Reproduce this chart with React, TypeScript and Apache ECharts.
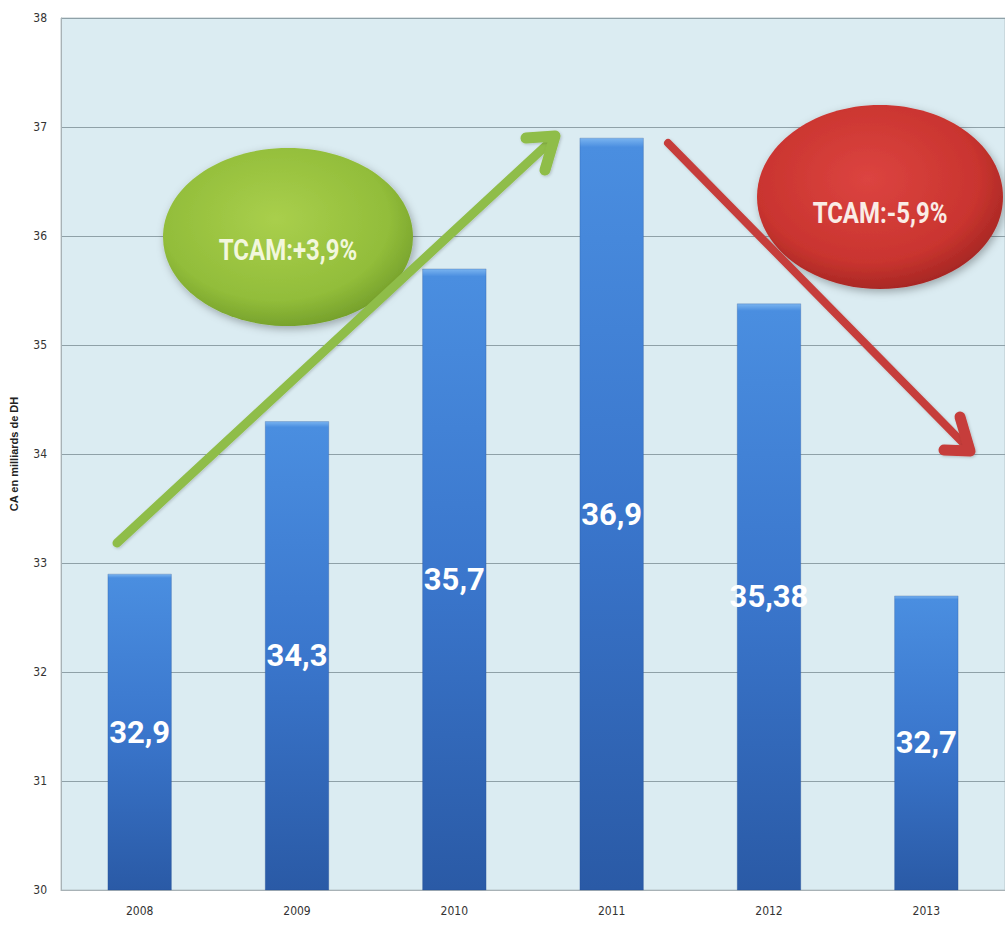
import React, { useEffect, useRef } from "react";
import * as echarts from "echarts";

const categories = ["2008", "2009", "2010", "2011", "2012", "2013"];
const caValues = [32.9, 34.3, 35.7, 36.9, 35.38, 32.7];
const yTicks = [30, 31, 32, 33, 34, 35, 36, 37, 38];
const growthUp = "TCAM:+3,9%";
const growthDown = "TCAM:-5,9%";

const NARROW = "'DejaVu Sans Condensed', 'Liberation Sans Narrow', sans-serif";
const BOLDFONT = "Roboto, 'Noto Sans', sans-serif";

export default function App() {
  const ref = useRef<HTMLDivElement>(null);
  useEffect(() => {
    if (!ref.current) return;
    const chart = echarts.init(ref.current, null, { renderer: "svg" });
    const arrowStyle = (c: string, w: number) => ({
      stroke: c,
      lineWidth: w,
      lineCap: "round",
      lineJoin: "round",
      fill: "none",
      shadowBlur: 3,
      shadowColor: "rgba(0,0,0,0.2)",
      shadowOffsetX: 1,
      shadowOffsetY: 1,
    });
    chart.setOption({
      animation: false,
      backgroundColor: "#ffffff",
      grid: {
        left: 60,
        top: 18,
        width: 948,
        height: 872,
        show: true,
        backgroundColor: "#dbecf2",
        borderColor: "#b9c6cb",
        borderWidth: 1,
        containLabel: false,
      },
      xAxis: {
        type: "category",
        data: categories,
        axisTick: { show: false },
        axisLine: { lineStyle: { color: "#a8b2b6", width: 1 } },
        axisLabel: { color: "#333", fontSize: 12, fontFamily: NARROW, margin: 15 },
      },
      yAxis: {
        type: "value",
        min: yTicks[0],
        max: yTicks[yTicks.length - 1],
        interval: 1,
        name: "CA en milliards de DH",
        nameLocation: "middle",
        nameRotate: 90,
        nameGap: 42,
        nameTextStyle: { color: "#222", fontSize: 11, fontWeight: "bold", fontFamily: "'Liberation Sans', Arial, sans-serif" },
        axisLine: { show: true, lineStyle: { color: "#a8b2b6" } },
        axisTick: { show: false },
        axisLabel: { color: "#333", fontSize: 12, fontFamily: NARROW, margin: 14 },
        splitLine: { lineStyle: { color: "#8fa1a8", width: 1 } },
      },
      series: [
        {
          type: "bar",
          data: caValues,
          barWidth: 64,
          itemStyle: {
            color: new echarts.graphic.LinearGradient(0, 0, 0, 1, [
              { offset: 0, color: "#7ab4f0" },
              { offset: 0.012, color: "#4a8ee0" },
              { offset: 0.5, color: "#3a76cc" },
              { offset: 1, color: "#2a5aa6" },
            ]),
            borderColor: "rgba(30,70,140,0.5)",
            borderWidth: 0.5,
          },
          label: {
            show: true,
            position: "inside",
            color: "#ffffff",
            fontSize: 31,
            fontWeight: "bold",
            fontFamily: BOLDFONT,
            formatter: (p: any) => String(p.value).replace(".", ","),
          },
        },
      ],
      graphic: [
        {
          type: "ellipse",
          z: 100,
          shape: { cx: 288, cy: 237, rx: 125, ry: 89 },
          style: {
            fill: new echarts.graphic.RadialGradient(0.45, 0.4, 0.65, [
              { offset: 0, color: "#a9cf4c" },
              { offset: 0.7, color: "#92bd3a" },
              { offset: 1, color: "#6f9a28" },
            ]),
            shadowBlur: 8,
            shadowColor: "rgba(0,0,0,0.3)",
            shadowOffsetX: 2,
            shadowOffsetY: 3,
          },
        },
        {
          type: "text",
          z: 101,
          x: 288,
          y: 250,
          scaleX: 0.8,
          style: {
            text: growthUp,
            fill: "#f2f7dc",
            fontSize: 30,
            fontWeight: "bold",
            fontFamily: BOLDFONT,
            align: "center",
            verticalAlign: "middle",
          },
        },
        {
          type: "ellipse",
          z: 100,
          shape: { cx: 880, cy: 197, rx: 123, ry: 92 },
          style: {
            fill: new echarts.graphic.RadialGradient(0.45, 0.4, 0.65, [
              { offset: 0, color: "#dc4440" },
              { offset: 0.7, color: "#c9342f" },
              { offset: 1, color: "#9e2421" },
            ]),
            shadowBlur: 8,
            shadowColor: "rgba(0,0,0,0.3)",
            shadowOffsetX: 2,
            shadowOffsetY: 3,
          },
        },
        {
          type: "text",
          z: 101,
          x: 880,
          y: 213,
          scaleX: 0.8,
          style: {
            text: growthDown,
            fill: "#faece6",
            fontSize: 30,
            fontWeight: "bold",
            fontFamily: BOLDFONT,
            align: "center",
            verticalAlign: "middle",
          },
        },
        {
          type: "line",
          z: 102,
          shape: { x1: 117, y1: 543, x2: 550, y2: 142 },
          style: arrowStyle("#8fbd48", 9),
        },
        {
          type: "polyline",
          z: 102,
          shape: { points: [[526, 138], [555, 136], [545, 170]] },
          style: arrowStyle("#8fbd48", 11),
        },
        {
          type: "line",
          z: 102,
          shape: { x1: 668, y1: 143, x2: 968, y2: 448 },
          style: arrowStyle("#c63e3a", 8),
        },
        {
          type: "polyline",
          z: 102,
          shape: { points: [[960, 417], [970, 451], [944, 450]] },
          style: arrowStyle("#c63e3a", 11),
        },
      ],
    });
    return () => chart.dispose();
  }, []);
  return (
    <div
      ref={ref}
      style={{ position: "fixed", left: 0, top: 0, width: 1005, height: 925 }}
    />
  );
}
